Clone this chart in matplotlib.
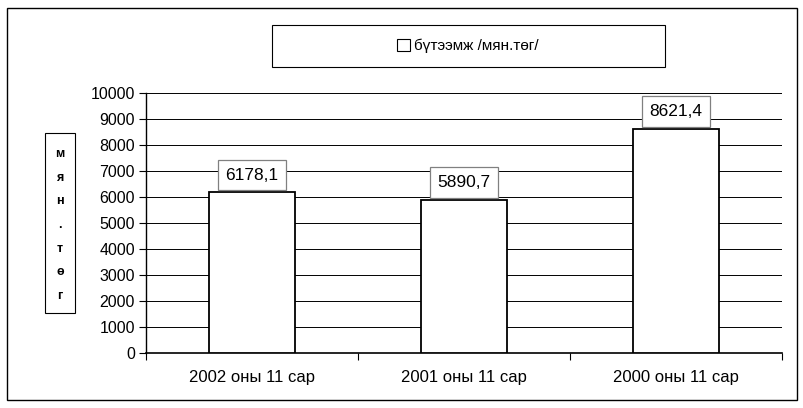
import matplotlib
matplotlib.use("Agg")
import matplotlib.pyplot as plt
from matplotlib.patches import Rectangle, Patch

plt.rcParams.update({
    "font.family": ["Liberation Sans", "DejaVu Sans"],
    "font.size": 9.5,
})

CATEGORIES = ["2002 оны 11 сар", "2001 оны 11 сар", "2000 оны 11 сар"]
VALUES = [6178.1, 5890.7, 8621.4]
VALUE_LABELS = ["6178,1", "5890,7", "8621,4"]
LEGEND_LABEL = "бүтээмж /мян.төг/"
YLABEL = "м\nя\nн\n.\nт\nө\nг"
YTICKS = list(range(0, 10001, 1000))

W, H = 804, 408
fig = plt.figure(figsize=(W / 100, H / 100), dpi=100)
ax = fig.add_axes([146 / W, 1 - 353 / H, (782 - 146) / W, (353 - 93) / H])

# outer frame
fig.patches.append(Rectangle((7 / W, 1 - 400 / H), 790 / W, 392 / H,
                             transform=fig.transFigure, fill=False,
                             edgecolor="black", linewidth=1.0))

ax.set_axisbelow(True)
ax.grid(axis="y", color="black", linewidth=0.7)
x = range(len(CATEGORIES))
ax.bar(x, VALUES, width=0.41, color="white", edgecolor="black", linewidth=1.3,
       zorder=3)

for xi, v, lab in zip(x, VALUES, VALUE_LABELS):
    ax.annotate(lab, xy=(xi, v), xytext=(0, 7), textcoords="offset points",
                ha="center", va="bottom", fontsize=12.5, zorder=5,
                bbox=dict(boxstyle="square,pad=0.45", facecolor="white",
                          edgecolor="#808080", linewidth=0.9))

ax.set_xlim(-0.5, len(CATEGORIES) - 0.5)
ax.set_ylim(0, 10000)
ax.set_yticks(YTICKS)
ax.set_xticks([i - 0.5 for i in range(len(CATEGORIES) + 1)])
ax.set_xticklabels([])
ax.set_xticks(list(x), minor=True)
ax.set_xticklabels(CATEGORIES, minor=True, fontsize=12)
ax.tick_params(axis="x", which="major", length=5, direction="out", width=0.8)
ax.tick_params(axis="x", which="minor", length=0, pad=12)
ax.tick_params(axis="y", length=5, direction="out", width=0.8, labelsize=11.5,
               pad=3)
for s in ["top", "right"]:
    ax.spines[s].set_visible(False)
ax.spines["left"].set_linewidth(1.0)
ax.spines["bottom"].set_linewidth(1.2)

# y label box
fig.patches.append(Rectangle((45 / W, 1 - 313 / H), 30 / W, 180 / H,
                             transform=fig.transFigure, facecolor="white",
                             edgecolor="black", linewidth=0.8))
fig.text(60 / W, 1 - 225 / H, YLABEL, ha="center", va="center",
         fontsize=9, fontweight="bold", linespacing=2.3)

# legend box
fig.patches.append(Rectangle((272 / W, 1 - 67 / H), 393 / W, 42 / H,
                             transform=fig.transFigure, facecolor="white",
                             edgecolor="black", linewidth=0.8))
handle = Patch(facecolor="white", edgecolor="black", linewidth=0.8,
               label=LEGEND_LABEL)
fig.legend(handles=[handle], loc="center", bbox_to_anchor=(468 / W, 1 - 46 / H),
           frameon=False, fontsize=11, handlelength=0.8, handleheight=0.8,
           handletextpad=0.3)

fig.savefig("out.png", dpi=100, facecolor="white")
